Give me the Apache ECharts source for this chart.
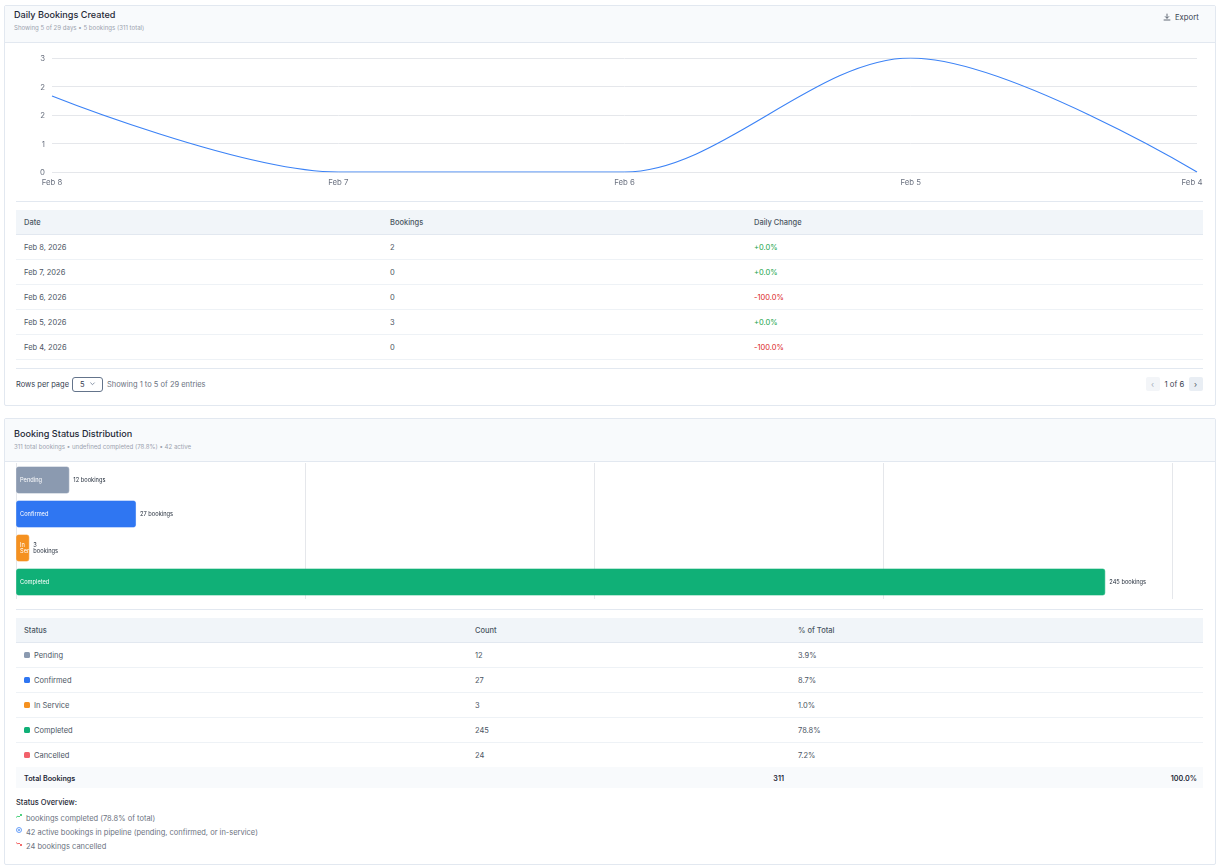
<!DOCTYPE html>
<html><head><meta charset="utf-8">
<script src="https://cdn.jsdelivr.net/npm/echarts@6/dist/echarts.min.js"></script>
<style>
html,body{margin:0;padding:0;background:#fff;width:1221px;height:868px;overflow:hidden;font-family:Inter,"Noto Sans",sans-serif;color:#4b5563}
.abs,.t{position:absolute}
.abs svg{display:block}
.t{white-space:nowrap;line-height:12px;height:12px;font-size:7.5px}
.card{position:absolute;left:4px;width:1210px;border:1px solid #e2e8f0;border-radius:2px;box-sizing:content-box}
.hd{position:absolute;left:4.5px;width:1210px;background:#f8fafc;border-bottom:1px solid #e2e8f0}
.line{position:absolute;height:1px;left:16px;width:1187px}
.band{position:absolute;left:16px;width:1187px}
.chart{position:absolute;left:0;width:1221px}
</style></head><body>
<div id="root"></div>
<div id="chart1" class="chart" style="top:43px;height:150px"></div>
<div id="chart2" class="chart" style="top:461px;height:140px"></div>
<script>
var dayLabels=['Feb 8','Feb 7','Feb 6','Feb 5','Feb 4'];
var dayValues=[2,0,0,3,0];
var dayTicks=[0,0.75,1.5,2.25,3];
var dayRows=['Feb 8, 2026','Feb 7, 2026','Feb 6, 2026','Feb 5, 2026','Feb 4, 2026'];
var dayChange=['+0.0%','+0.0%','-100.0%','+0.0%','-100.0%'];
var barStatuses=['Pending','Confirmed','In\nSer','Completed'];
var barValues=[12,27,3,245];
var barColors=['#8b9ab0','#2f76f2','#f59120','#10b077'];
var barSuffix=['12 bookings','27 bookings','3\nbookings','245 bookings'];
var statusNames=['Pending','Confirmed','In Service','Completed','Cancelled'];
var statusCounts=[12,27,3,245,24];
var statusPct=['3.9%','8.7%','1.0%','78.8%','7.2%'];
var statusColors=['#8b9ab0','#2f76f2','#f59120','#10b077','#f2616b'];

var root=document.getElementById('root');
function el(cls,css,html){var d=document.createElement('div');d.className=cls;d.style.cssText=css;if(html!=null)d.innerHTML=html;root.appendChild(d);return d;}
function text(x,y,s,css){return el('t','left:'+x+'px;top:'+(y-5.4)+'px;'+(css||''),s);}
function textR(x,y,s,css){return el('t','right:'+(1221-x)+'px;top:'+(y-5.4)+'px;'+(css||''),s);}
function line(y,c,css){el('line','top:'+y+'px;background:'+c+';'+(css||''));}

// cards
el('card','top:5px;height:399px');
el('hd','top:6px;height:36px');
el('card','top:418px;height:445px');
el('hd','top:419px;height:42px');
text(14,14,'Daily Bookings Created','font-size:9.1px;color:#1f2937;font-weight:500');
text(14,27,'Showing 5 of 29 days • 5 bookings (311 total)','font-size:6.1px;color:#9ca3af');
text(1175,17,'Export','font-size:7.7px;color:#374151');
el('abs','left:1163px;top:13px;width:8px;height:8px','<svg width="8" height="8" viewBox="0 0 24 24" fill="none" stroke="#4b5563" stroke-width="2.6"><path d="M12 2v14M6 10l6 6 6-6M2 21h20"/></svg>');

// table 1
line(201,'#e2e8f0');
el('band','top:210px;height:24px;background:#f1f5f9;border-bottom:1px solid #e2e8f0');
text(24,222,'Date','font-weight:500');
text(390,222,'Bookings','font-weight:500');
text(754,222,'Daily Change','font-weight:500');
dayRows.forEach(function(d,i){
  var y=247+25*i;
  text(24,y,d);
  text(390,y,String(dayValues[i]));
  text(754,y,dayChange[i],'color:'+(dayChange[i][0]=='+'?'#16a34a':'#dc2626'));
  line(y+12,'#eef2f6');
});
line(368,'#e2e8f0');
text(16,384,'Rows per page','color:#374151');
el('abs','left:72px;top:376.5px;width:29px;height:13px;border:1.4px solid #64748b;border-radius:3px');
text(80,384,'5','color:#374151');
el('abs','left:88.5px;top:381px;width:7px;height:6px','<svg width="7" height="6" viewBox="0 0 10 8" fill="none" stroke="#64748b" stroke-width="1.1"><path d="M2 2l3 3 3-3"/></svg>');
text(107,384,'Showing 1 to 5 of 29 entries','color:#6b7280');
el('abs','left:1146px;top:377px;width:14px;height:14px;background:#f3f5f8;border-radius:2px');
el('abs','left:1189px;top:377px;width:14px;height:14px;background:#e9eef4;border-radius:2px');
text(1151,383,'‹','color:#a3adba;font-size:8px');
text(1194,383,'›','color:#4b5563;font-size:8px');
text(1164.5,384,'1 of 6','color:#374151;font-size:7.7px');

// status card
text(14,433,'Booking Status Distribution','font-size:9.1px;color:#1f2937;font-weight:500');
text(14,446,'311 total bookings • undefined completed (78.8%) • 42 active','font-size:6.1px;color:#9ca3af');
line(609,'#e2e8f0');
el('band','top:618px;height:24px;background:#f1f5f9;border-bottom:1px solid #e2e8f0');
text(24,630,'Status','font-weight:500');
text(475,630,'Count','font-weight:500');
text(798,630,'% of Total','font-weight:500');
statusNames.forEach(function(n,i){
  var y=655+25*i;
  el('abs','left:24px;top:'+(y-3)+'px;width:6px;height:6px;border-radius:1.5px;background:'+statusColors[i]);
  text(34,y,n);
  text(475,y,String(statusCounts[i]));
  text(798,y,statusPct[i]);
  if(i<4)line(y+12,'#eef2f6');
});
el('band','top:767px;height:21px;background:#f8fafc');
text(24,778,'Total Bookings','color:#1f2937;font-weight:600;font-size:7.2px');
textR(784,778,'311','color:#1f2937;font-weight:600;font-size:7.2px');
textR(1197,778,'100.0%','color:#1f2937;font-weight:600;font-size:7.2px');
text(16,802,'Status Overview:','color:#1f2937;font-weight:500');
text(26,818,'bookings completed (78.8% of total)','color:#6b7280');
text(26,832,'42 active bookings in pipeline (pending, confirmed, or in-service)','color:#6b7280');
text(26,846,'24 bookings cancelled','color:#6b7280');
el('abs','left:16px;top:813px;width:6px;height:6px','<svg width="6" height="6" viewBox="0 0 12 12" fill="none" stroke="#22c55e" stroke-width="1.6"><path d="M0 9l4-3 2 2 5-5M8 3h3v3"/></svg>');
el('abs','left:16px;top:827px;width:6px;height:6px','<svg width="6" height="6" viewBox="0 0 12 12" fill="none" stroke="#3b82f6" stroke-width="1.5"><circle cx="6" cy="6" r="5"/><circle cx="6" cy="6" r="1.5"/></svg>');
el('abs','left:16px;top:841px;width:6px;height:6px','<svg width="6" height="6" viewBox="0 0 12 12" fill="none" stroke="#ef4444" stroke-width="1.6"><path d="M0 3l4 3 2-2 5 5M8 9h3V6"/></svg>');

// chart 1
var c1=echarts.init(document.getElementById('chart1'));
c1.setOption({
  animation:false,
  grid:{left:52,right:24,top:15,height:114},
  xAxis:{type:'category',boundaryGap:false,
    data:dayLabels.map(function(l,i){return i==dayLabels.length-1?{value:l,textStyle:{padding:[0,10,0,0]}}:l;}),
    axisLine:{show:false},axisTick:{show:false},
    axisLabel:{show:true,interval:0,color:'#6b7280',fontSize:7.8,fontFamily:'Inter',margin:7}},
  yAxis:{type:'value',min:dayTicks[0],max:dayTicks[dayTicks.length-1],interval:dayTicks[1],
    axisLine:{show:false},axisTick:{show:false},
    axisLabel:{color:'#6b7280',fontSize:7.8,fontFamily:'Inter',margin:7,verticalAlign:'top',lineHeight:2,formatter:function(v){return String(Math.round(v));}},
    splitLine:{lineStyle:{color:'#e5e7eb',width:1}}},
  series:[{type:'line',data:dayValues,smooth:0.33,smoothMonotone:'x',showSymbol:false,
    lineStyle:{color:'#3b82f6',width:1.1},itemStyle:{color:'#3b82f6'}}]
});

// chart 2
var c2=echarts.init(document.getElementById('chart2'));
c2.setOption({
  animation:false,
  grid:{left:16,right:49,top:2,height:136},
  xAxis:{type:'value',min:0,max:260,interval:65,axisLine:{show:false},axisTick:{show:false},axisLabel:{show:false},
    splitLine:{lineStyle:{color:'#e5e7eb',width:1}}},
  yAxis:{type:'category',inverse:true,data:barStatuses,axisLine:{show:false},axisTick:{show:false},axisLabel:{show:false}},
  series:[
    {type:'bar',barWidth:27,barGap:'-100%',
     data:barValues.map(function(v,i){return {value:v,itemStyle:{color:barColors[i],borderRadius:2,borderWidth:1,borderColor:barColors[i]+'99'}};}),
     label:{show:true,position:'insideLeft',distance:4,color:'#fff',fontSize:5.7,fontFamily:'Inter',
       formatter:function(p){return barStatuses[p.dataIndex];}}},
    {type:'bar',barWidth:27,barGap:'-100%',silent:true,
     data:barValues,itemStyle:{color:'transparent'},
     label:{show:true,position:'right',distance:4,color:'#1f2937',fontSize:5.7,fontFamily:'Inter',align:'left',
       formatter:function(p){return barSuffix[p.dataIndex];}}}
  ]
});
</script>
</body></html>
